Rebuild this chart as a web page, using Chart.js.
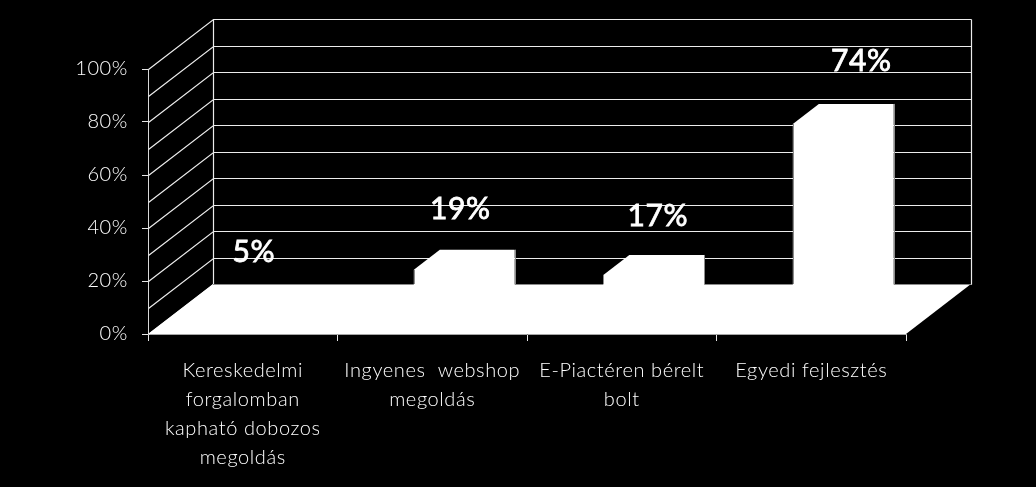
<!DOCTYPE html>
<html>
<head>
<meta charset="utf-8">
<style>
  html, body { margin: 0; padding: 0; background: #000; }
  #wrap { width: 1036px; height: 487px; }
</style>
<script src="https://cdn.jsdelivr.net/npm/chart.js@4"></script>
</head>
<body>
<div id="wrap"><canvas id="chart"></canvas></div>
<script>
const categories = [
  ['Kereskedelmi', 'forgalomban', 'kapható dobozos', 'megoldás'],
  ['Ingyenes  webshop', 'megoldás'],
  ['E-Piactéren bérelt', 'bolt'],
  ['Egyedi fejlesztés']
];
const shares = [5, 19, 17, 74];
const wallLevels = [0, 10, 20, 30, 40, 50, 60, 70, 80, 90, 100];

const FONT = 'Lato, Carlito, sans-serif';

// depth of the fake 3D box, in pixels
const wallDx = 65, wallDy = 50;
const barFrontDx = 19, barFrontDy = 14;
const barDepthDx = 26, barDepthDy = 20;
// the value labels sit by hand in the reference
const labelNudge = [[-21, 9], [-4, 3], [4, 4], [18, 0]];

const box3d = {
  id: 'box3d',
  beforeDraw(chart) {
    chart.ctx.letterSpacing = '0.6px';
  },
  beforeDatasetsDraw(chart) {
    const { ctx, chartArea: a, scales: { y } } = chart;
    ctx.save();
    ctx.lineWidth = 1.2;
    ctx.strokeStyle = '#ececec';
    ctx.beginPath();
    wallLevels.forEach(v => {
      const py = Math.round(y.getPixelForValue(v)) + 0.5;
      ctx.moveTo(a.left + 0.5, py);
      ctx.lineTo(a.left + wallDx + 0.5, py - wallDy);
      ctx.lineTo(a.right + wallDx + 0.5, py - wallDy);
    });
    // back wall verticals
    const y0 = Math.round(y.getPixelForValue(0)) + 0.5 - wallDy;
    const y100 = Math.round(y.getPixelForValue(100)) + 0.5 - wallDy;
    ctx.moveTo(a.left + wallDx + 0.5, y0);
    ctx.lineTo(a.left + wallDx + 0.5, y100);
    ctx.moveTo(a.right + wallDx + 0.5, y0);
    ctx.lineTo(a.right + wallDx + 0.5, y100);
    ctx.stroke();
    // floor
    const base = y.getPixelForValue(0);
    ctx.fillStyle = '#fff';
    ctx.beginPath();
    ctx.moveTo(a.left, base);
    ctx.lineTo(a.left + wallDx, base - wallDy);
    ctx.lineTo(a.right + wallDx, base - wallDy);
    ctx.lineTo(a.right, base);
    ctx.closePath();
    ctx.fill();
    ctx.strokeStyle = '#8c8c8c';
    ctx.lineWidth = 1;
    ctx.beginPath();
    ctx.moveTo(a.left + wallDx, y0);
    ctx.lineTo(a.right + wallDx, y0);
    ctx.stroke();
    ctx.restore();
  },
  beforeDatasetDraw(chart) {
    const { ctx } = chart;
    // side and top faces first, then the library draws the front face shifted into the box
    ctx.save();
    ctx.fillStyle = '#fff';
    chart.getDatasetMeta(0).data.forEach(bar => {
      const half = bar.width / 2;
      const x1 = bar.x - half + barFrontDx, x2 = bar.x + half + barFrontDx;
      const top = bar.y - barFrontDy, bottom = bar.base - barFrontDy;
      ctx.beginPath();
      ctx.moveTo(x1, top);
      ctx.lineTo(x1 + barDepthDx, top - barDepthDy);
      ctx.lineTo(x2 + barDepthDx, top - barDepthDy);
      ctx.lineTo(x2 + barDepthDx, bottom - barDepthDy);
      ctx.lineTo(x2, bottom);
      ctx.closePath();
      ctx.fill();
    });
    ctx.restore();
    ctx.save();
    ctx.translate(barFrontDx, -barFrontDy);
  },
  afterDatasetDraw(chart) {
    chart.ctx.restore();
  },
  afterDatasetsDraw(chart) {
    const { ctx, scales: { y } } = chart;
    ctx.save();
    const floorBack = y.getPixelForValue(0) - wallDy;
    // thin grey edges where a bar meets the black wall
    ctx.strokeStyle = '#8c8c8c';
    ctx.lineWidth = 1;
    chart.getDatasetMeta(0).data.forEach(bar => {
      const half = bar.width / 2;
      const top = bar.y - barFrontDy;
      if (top - barDepthDy >= floorBack) return;
      const xl = Math.round(bar.x - half + barFrontDx) + 0.5;
      const xr = Math.round(bar.x + half + barFrontDx + barDepthDx) + 0.5;
      ctx.beginPath();
      ctx.moveTo(xl, top);
      ctx.lineTo(xl, floorBack);
      ctx.moveTo(xr, top - barDepthDy);
      ctx.lineTo(xr, floorBack);
      ctx.stroke();
    });
    ctx.fillStyle = '#fff';
    ctx.strokeStyle = '#fff';
    ctx.lineWidth = 0.8;
    ctx.font = '400 30px ' + FONT;
    ctx.textAlign = 'center';
    ctx.textBaseline = 'middle';
    chart.getDatasetMeta(0).data.forEach((bar, i) => {
      const n = labelNudge[i];
      const lx = bar.x + barFrontDx + barDepthDx / 2 + n[0];
      const ly = bar.y - barFrontDy - barDepthDy - 43 + n[1];
      ctx.fillText(shares[i] + '%', lx, ly);
      ctx.strokeText(shares[i] + '%', lx, ly);
    });
    ctx.restore();
  }
};

new Chart(document.getElementById('chart'), {
  type: 'bar',
  data: {
    labels: categories,
    datasets: [{
      data: shares,
      backgroundColor: '#fff',
      borderWidth: 0,
      barPercentage: 0.395,
      categoryPercentage: 1
    }]
  },
  plugins: [box3d],
  options: {
    responsive: true,
    maintainAspectRatio: false,
    animation: false,
    devicePixelRatio: 1,
    layout: { padding: { top: 69, right: 130, left: 0, bottom: 0 } },
    plugins: { legend: { display: false }, tooltip: { enabled: false } },
    scales: {
      y: {
        min: 0,
        max: 100,
        afterFit(scale) { scale.width = 148; },
        border: { color: '#d9d9d9', width: 1 },
        grid: { drawOnChartArea: false, color: '#e6e6e6', tickLength: 6 },
        ticks: {
          stepSize: 20,
          padding: 14,
          color: '#fff',
          font: { family: FONT, size: 20, weight: 300 },
          callback: v => v + '%'
        }
      },
      x: {
        afterFit(scale) { scale.height = 153; },
        border: { color: '#a6a6a6', width: 1 },
        grid: { drawOnChartArea: false, color: '#e6e6e6', tickLength: 7, offset: true },
        ticks: {
          padding: 15,
          maxRotation: 0,
          autoSkip: false,
          color: '#fff',
          font: { family: FONT, size: 20, weight: 300, lineHeight: 1.45 }
        }
      }
    }
  }
});
</script>
</body>
</html>
